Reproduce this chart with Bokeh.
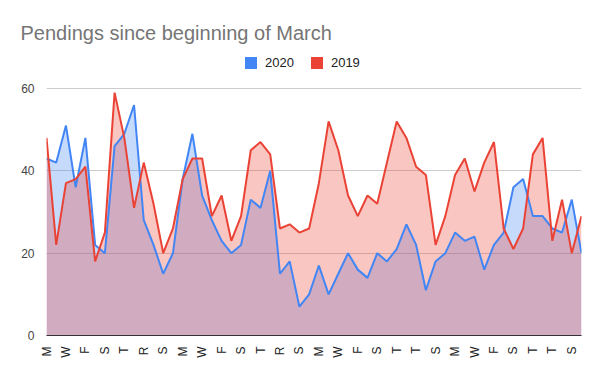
from math import pi
from bokeh.plotting import figure
from bokeh.models import Range1d, FixedTicker, Legend, LegendItem, ColumnDataSource
from bokeh.embed import file_html
from bokeh.resources import INLINE

# ---- data ----
day_labels = (["M", "T", "W", "R", "F", "S", "S"] * 4
              + ["M", "T", "W", "T", "F", "S", "S"] * 4)
values_2020 = [43, 42, 51, 36, 48, 22, 20, 46, 49, 56,
               28, 22, 15, 20, 38, 49, 34, 28, 23, 20,
               22, 33, 31, 40, 15, 18, 7, 10, 17, 10,
               15, 20, 16, 14, 20, 18, 21, 27, 22, 11,
               18, 20, 25, 23, 24, 16, 22, 25, 36, 38,
               29, 29, 26, 25, 33, 20]
values_2019 = [48, 22, 37, 38, 41, 18, 25, 59, 48, 31,
               42, 32, 20, 26, 38, 43, 43, 29, 34, 23,
               29, 45, 47, 44, 26, 27, 25, 26, 37, 52,
               45, 34, 29, 34, 32, 42, 52, 48, 41, 39,
               22, 29, 39, 43, 35, 42, 47, 26, 21, 26,
               44, 48, 23, 33, 20, 29]
y_ticks = [0, 20, 40, 60]
title_text = "Pendings since beginning of March"
series_names = ["2020", "2019"]

BLUE = "#4285F4"
RED = "#EA4335"
FONT = "Liberation Sans"

# layout (pixels): frame spans 46..581 horizontally, 48..335 vertically;
# the value 60 must sit at y=88, so the y range is extended above 60.
FRAME_TOP, GRID60_Y, BASE_Y = 48, 88, 335
y_top = max(y_ticks) * (BASE_Y - FRAME_TOP) / (BASE_Y - GRID60_Y)

x = list(range(len(day_labels)))
src = ColumnDataSource(dict(x=x, zero=[0] * len(x), v2020=values_2020, v2019=values_2019))

p = figure(width=600, height=371,
           x_range=Range1d(0, len(x) - 1), y_range=Range1d(0, y_top),
           output_backend="svg", toolbar_location=None,
           min_border_left=46, min_border_right=19,
           min_border_top=FRAME_TOP, min_border_bottom=36,
           title=title_text)
p.outline_line_color = None

p.title.text_font = FONT
p.title.text_font_size = "20px"
p.title.text_font_style = "normal"
p.title.text_color = "#757575"
p.title.align = "left"
p.title.offset = -26
p.title.padding = dict(left=0, right=0, top=11, bottom=0)

# areas
p.varea(x="x", y1=0, y2="v2020", source=src, fill_color=BLUE, fill_alpha=0.3)
p.varea(x="x", y1=0, y2="v2019", source=src, fill_color=RED, fill_alpha=0.3)
# lines
p.line(x="x", y="v2020", source=src, line_color=BLUE, line_width=2)
p.line(x="x", y="v2019", source=src, line_color=RED, line_width=2)

# hidden legend proxies (solid squares)
r_b = p.quad(left="x", right="x", top="v2020", bottom="zero", source=src,
             fill_color=BLUE, line_color=None, visible=False)
r_r = p.quad(left="x", right="x", top="v2019", bottom="zero", source=src,
             fill_color=RED, line_color=None, visible=False)
legend = Legend(items=[LegendItem(label=series_names[0], renderers=[r_b]),
                       LegendItem(label=series_names[1], renderers=[r_r])],
                orientation="horizontal", location=(197, 265),
                glyph_width=15, glyph_height=15, label_standoff=7, spacing=15,
                padding=0, margin=0, border_line_color=None,
                background_fill_alpha=0, label_text_font=FONT,
                label_text_font_size="13px", label_text_color="#222222",
                label_height=15)
p.add_layout(legend, "center")

# grid
p.xgrid.visible = False
p.ygrid.ticker = FixedTicker(ticks=y_ticks)
p.ygrid.grid_line_color = "#cccccc"
p.ygrid.grid_line_width = 1

# y axis
p.yaxis.ticker = FixedTicker(ticks=y_ticks)
p.yaxis.axis_line_color = None
p.yaxis.major_tick_line_color = None
p.yaxis.minor_tick_line_color = None
p.yaxis.major_label_text_font = FONT
p.yaxis.major_label_text_font_size = "12px"
p.yaxis.major_label_text_color = "#444444"
p.yaxis.major_label_standoff = 6

# x axis
shown = list(range(0, len(x), 2))
p.xaxis.ticker = FixedTicker(ticks=shown)
p.xaxis.major_label_overrides = {i: day_labels[i] for i in shown}
p.xaxis.axis_line_color = "#333333"
p.xaxis.major_tick_line_color = None
p.xaxis.minor_tick_line_color = None
p.xaxis.major_label_orientation = pi / 2
p.xaxis.major_label_text_font = FONT
p.xaxis.major_label_text_font_size = "12px"
p.xaxis.major_label_text_color = "#222222"
p.xaxis.major_label_standoff = 5

open("out.html", "w").write(file_html(p, INLINE))
